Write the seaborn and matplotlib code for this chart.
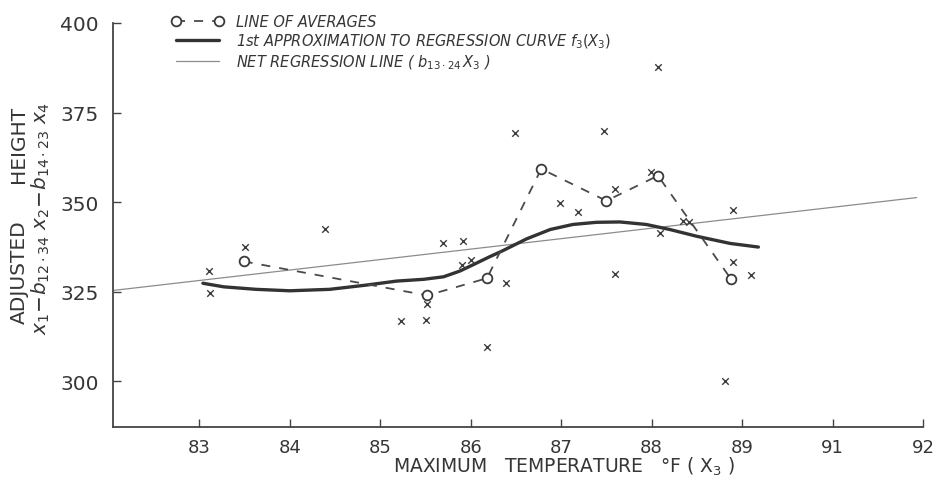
import matplotlib
matplotlib.use("Agg")
import matplotlib.pyplot as plt
import seaborn as sns
import pandas as pd

# ---------------- data ----------------
tick_pos = [83, 84, 85, 86, 87, 88, 89, 90, 91]
tick_labels = ["83", "84", "85", "86", "87", "88", "89", "91", "92"]
y_ticks = [300, 325, 350, 375, 400]
y_tick_labels = ["300", "325", "350", "375", "400"]

obs_x = [83.11, 83.12, 83.51, 84.39, 85.69, 85.91, 85.90, 86.00, 85.52, 85.23,
         85.51, 86.18, 86.39, 86.49, 86.99, 87.19, 88.07, 87.47, 87.59, 87.99,
         88.09, 88.35, 88.41, 88.90, 88.90, 89.10, 87.59, 88.81]
obs_y = [330.7, 324.6, 337.4, 342.4, 338.5, 339.3, 332.6, 333.8, 321.5, 316.8,
         317.1, 309.6, 327.4, 369.4, 349.9, 347.4, 387.7, 369.9, 353.8, 358.5,
         341.5, 344.9, 344.6, 347.9, 333.2, 329.6, 329.9, 300.1]

avg_x = [83.49, 85.52, 86.18, 86.78, 87.50, 88.07, 88.88]
avg_y = [333.5, 324.0, 328.8, 359.3, 350.4, 357.4, 328.5]

curve_x = [83.04, 83.27, 83.63, 84.00, 84.44, 84.85, 85.18, 85.48, 85.70, 85.88,
           86.03, 86.21, 86.34, 86.62, 86.88, 87.13, 87.39, 87.65, 87.94, 88.20,
           88.50, 88.87, 89.18]
curve_y = [327.4, 326.4, 325.7, 325.3, 325.7, 326.9, 328.0, 328.5, 329.2, 330.8,
           332.6, 334.8, 336.3, 339.8, 342.4, 343.8, 344.4, 344.5, 343.8, 342.4,
           340.5, 338.5, 337.5]

net_x = [82.05, 90.93]
net_y = [325.4, 351.3]

legend_labels = [
    "LINE OF AVERAGES",
    r"1st APPROXIMATION TO REGRESSION CURVE $f_3(X_3)$",
    r"NET REGRESSION LINE ( $b_{13\cdot 24}\,X_3$ )",
]

# ---------------- style ----------------
sns.set_theme(style="ticks")
plt.rcParams["font.family"] = ["DejaVu Sans"]
plt.rcParams["mathtext.fontset"] = "dejavusans"
ink = "#363636"

fig = plt.figure(figsize=(9.38, 4.85), dpi=100, facecolor="white")
ax = fig.add_axes([113 / 938, 1 - 428 / 485, 810 / 938, 404 / 485])
ax.set_facecolor("white")

obs = pd.DataFrame({"x": obs_x, "y": obs_y})
avg = pd.DataFrame({"x": avg_x, "y": avg_y})
cur = pd.DataFrame({"x": curve_x, "y": curve_y})
net = pd.DataFrame({"x": net_x, "y": net_y})

sns.lineplot(data=net, x="x", y="y", ax=ax, color="#8c8c8c", linewidth=0.9,
             sort=False, label=legend_labels[2], zorder=2)
sns.lineplot(data=cur, x="x", y="y", ax=ax, color="#333333", linewidth=2.4,
             sort=False, label=legend_labels[1], zorder=3)
sns.lineplot(data=avg, x="x", y="y", ax=ax, color="#4a4a4a", linewidth=1.3,
             sort=False, marker="o", markersize=7, markerfacecolor="white",
             markeredgecolor="#3a3a3a", markeredgewidth=1.3,
             dashes=False, linestyle=(0, (5, 5)), label=legend_labels[0], zorder=4)
sns.scatterplot(data=obs, x="x", y="y", ax=ax, marker="x", s=22, color="#3c3c3c",
                linewidth=1.0, zorder=5)

ax.set_xlim(82.046, 91.0)
ax.set_ylim(287.3, 400.0)
ax.set_xticks(tick_pos)
ax.set_xticklabels(tick_labels, fontsize=13, color=ink)
ax.set_yticks(y_ticks)
ax.set_yticklabels(y_tick_labels, fontsize=14.5, color=ink)
ax.tick_params(axis="both", direction="in", length=6, width=1.0, color="#444444")
ax.tick_params(axis="x", pad=8)
ax.tick_params(axis="y", pad=10)
ax.set_xlabel("")
ax.set_ylabel("")
for s in ["top", "right"]:
    ax.spines[s].set_visible(False)
for s in ["left", "bottom"]:
    ax.spines[s].set_color("#444444")
    ax.spines[s].set_linewidth(1.3)

# legend (order: averages, curve, net line)
h, l = ax.get_legend_handles_labels()
order = [l.index(t) for t in legend_labels]
leg = ax.legend([h[i] for i in order], [l[i] for i in order],
                loc="upper left", bbox_to_anchor=(172 / 938, 1 - 15 / 485),
                bbox_transform=fig.transFigure, frameon=False, numpoints=2,
                handlelength=3.5, handletextpad=0.9, borderpad=0, borderaxespad=0,
                labelspacing=0.18, prop={"size": 10.5, "style": "italic"})
for t in leg.get_texts():
    t.set_color(ink)

# axis titles
fig.text(564 / 938, 1 - 467 / 485, r"MAXIMUM   TEMPERATURE   °F ( X$_3$ )",
         ha="center", va="center", fontsize=13.5, color=ink)
fig.text(19 / 938, 1 - 272 / 485, "ADJUSTED", rotation=90, ha="center", va="center",
         fontsize=14.5, color=ink)
fig.text(19 / 938, 1 - 144 / 485, "HEIGHT", rotation=90, ha="center", va="center",
         fontsize=14.5, color=ink)
fig.text(41 / 938, 1 - 218 / 485,
         r"$x_1\!-\!b_{12\cdot 34}\ x_2\!-\!b_{14\cdot 23}\ x_4$",
         rotation=90, ha="center", va="center", fontsize=14.5, color=ink)

fig.savefig("out.png", dpi=100, facecolor="white")
